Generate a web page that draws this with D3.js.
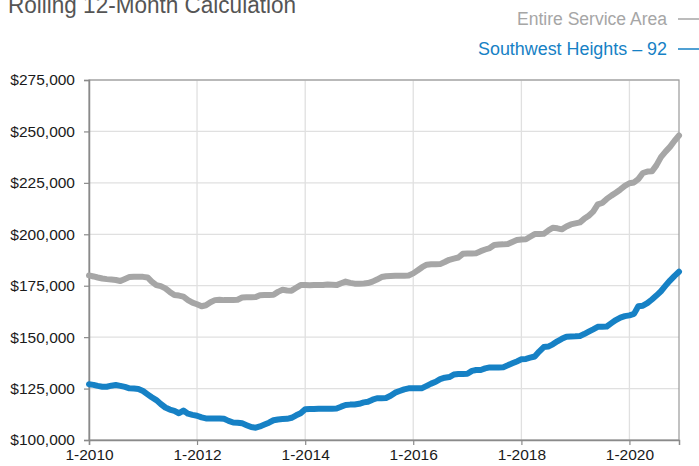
<!DOCTYPE html>
<html><head><meta charset="utf-8">
<script src="https://cdn.jsdelivr.net/npm/d3@7"></script>
<style>body{margin:0;background:#fff;}svg{display:block;font-family:"Liberation Sans",Arial,sans-serif;}</style>
</head><body>
<svg id="chart" width="699" height="466"></svg>
<script>
const title = "Rolling 12-Month Calculation";
const seriesNames = ["Entire Service Area", "Southwest Heights – 92"];
const seriesColors = ["#a6a6a6", "#1681c5"];
const startYear = 2010, startMonth = 0, monthCount = 132;
const yTicks = [100000,125000,150000,175000,200000,225000,250000,275000];
const xTickYears = [2010,2012,2014,2016,2018,2020];
const entireArea = [180,179.5,179,178.5,178.2,178,177.8,177.3,178.3,179.2,179.4,179.4,179.3,179,177,175.3,174.8,173.7,172,170.5,170.2,169.7,168,166.8,166,165,165.5,167,168,168.2,168,168,168.1,168.2,169.3,169.4,169.4,169.5,170.4,170.5,170.5,170.6,172,173,172.7,172.6,174,175.3,175.3,175.2,175.3,175.4,175.4,175.6,175.5,175.3,176.2,177,176.4,176,176,176.1,176.3,177,178,179.2,179.6,179.7,179.8,179.8,179.9,180,181,182.5,184,185.2,185.4,185.4,185.5,186.5,187.6,188.2,188.7,190.5,190.7,190.7,190.8,191.8,192.6,193.3,194.8,195,195.1,195.3,196.3,197.2,197.5,197.6,198.8,200.1,200.1,200.2,201.8,203.2,202.9,202.4,203.8,204.8,205.3,205.8,207.5,209,211,214.5,215.2,217.2,218.8,220.2,221.8,223.5,224.8,225.2,226.8,229.8,230.5,230.6,233.5,237.5,240.2,242.5,245.5,248];
const southwest = [127.1,126.8,126.3,125.9,125.9,126.4,126.7,126.3,125.8,125.1,125.0,124.8,123.8,122.2,120.8,119.4,117.5,115.8,114.8,114.2,113.0,114.3,112.8,112.2,111.8,111,110.5,110.5,110.5,110.5,110.3,109.3,108.5,108.4,108.1,107.2,106.3,106,106.6,107.5,108.4,109.6,110,110.2,110.3,110.8,112,113,115,115.1,115.1,115.2,115.2,115.2,115.2,115.3,116.2,117,117.2,117.3,117.6,118.3,118.6,119.6,120.3,120.3,120.4,121.5,123,123.8,124.6,125.1,125.1,125.1,125.2,126.3,127.4,128.3,129.6,130.3,130.6,131.8,132.1,132.1,132.2,133.6,134,134,134.8,135.3,135.3,135.3,135.4,136.3,137.3,138.2,139.2,139.4,140,140.6,143,145.2,145.4,146.5,148,149.2,150.2,150.3,150.4,150.6,151.5,152.7,153.8,155,155.1,155.2,156.8,158.3,159.5,160.2,160.6,161.3,165,165.3,166.5,168.3,170.2,172.3,175,177.5,179.8,181.8];

const svg = d3.select("#chart");
const L = 89, R = 679, T = 80, B = 440;
const dates = d3.range(monthCount).map(i => new Date(startYear, startMonth + i, 1));
const x = d3.scaleTime().domain([dates[0], dates[monthCount-1]]).range([L, R]);
const y = d3.scaleLinear().domain([100000, 275000]).range([B, T]);

// gridlines
svg.append("g").selectAll("line").data(yTicks.slice(1)).join("line")
  .attr("x1", L).attr("x2", R).attr("y1", d => y(d)).attr("y2", d => y(d))
  .attr("stroke", "#e0e0e0").attr("stroke-width", 1.3);
svg.append("g").selectAll("line").data(xTickYears.slice(1)).join("line")
  .attr("x1", d => x(new Date(d,0,1))).attr("x2", d => x(new Date(d,0,1)))
  .attr("y1", T).attr("y2", B)
  .attr("stroke", "#e0e0e0").attr("stroke-width", 1.3);

// frame
svg.append("rect").attr("x", L).attr("y", T).attr("width", R-L).attr("height", B-T)
  .attr("fill", "none").attr("stroke", "#9a9a9a").attr("stroke-width", 1.2);

// axes
const yAxis = d3.axisLeft(y).tickValues(yTicks).tickSize(5).tickPadding(9)
  .tickFormat(d => "$" + d3.format(",")(d));
const gy = svg.append("g").attr("transform", `translate(${L},0)`).call(yAxis);
const xAxis = d3.axisBottom(x).tickValues(xTickYears.map(yr => new Date(yr,0,1))).tickSize(5).tickPadding(4)
  .tickFormat(d => "1-" + d.getFullYear());
const gx = svg.append("g").attr("transform", `translate(0,${B})`).call(xAxis);
[gx, gy].forEach(g => {
  g.select(".domain").attr("stroke", "#8a8a8a").attr("stroke-width", 1.5);
  g.selectAll(".tick line").attr("stroke", "#8a8a8a").attr("stroke-width", 1.2);
  g.selectAll(".tick text").attr("fill", "#1a1a1a").style("font-size", "15.5px")
   .style("font-family", "'Liberation Sans', Arial, sans-serif");
});

// lines
const line = d3.line().x((d,i) => x(dates[i])).y(d => y(d*1000)).curve(d3.curveLinear);
[entireArea, southwest].forEach((s, k) => {
  svg.append("path").datum(s).attr("d", line).attr("fill", "none")
    .attr("stroke", seriesColors[k]).attr("stroke-width", 6)
    .attr("stroke-linejoin", "round").attr("stroke-linecap", "round");
});

// title (partially cut off at top)
svg.append("text").attr("x", 8).attr("y", 13).text(title)
  .attr("fill", "#555").style("font-size", "23px").attr("textLength", 288).attr("lengthAdjust", "spacingAndGlyphs");

// legend
const legY = [25, 55];
seriesNames.forEach((n, k) => {
  svg.append("text").attr("x", 667).attr("y", legY[k]).attr("text-anchor", "end")
    .text(n).attr("fill", seriesColors[k]).style("font-size", "18px")
    .attr("textLength", k === 0 ? 150 : 189).attr("lengthAdjust", "spacingAndGlyphs");
  svg.append("line").attr("x1", 678).attr("x2", 699).attr("y1", legY[k]-6).attr("y2", legY[k]-6)
    .attr("stroke", seriesColors[k]).attr("stroke-width", 1.5);
});
</script>
</body></html>
